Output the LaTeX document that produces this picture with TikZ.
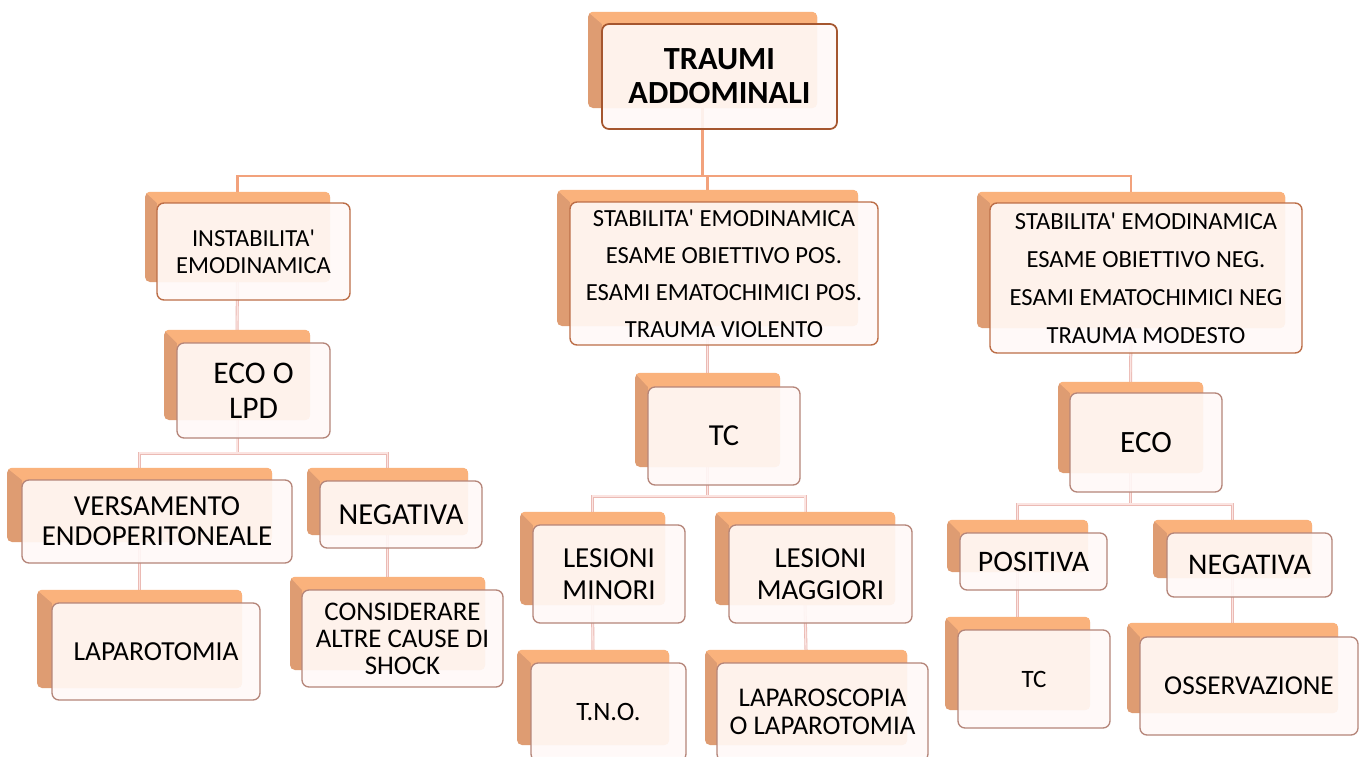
\documentclass[tikz,border=0pt]{standalone}
\usepackage{fontspec}
\setmainfont{Carlito}[Ligatures=TeXOff]
\usetikzlibrary{calc}
\pgfdeclarelayer{bg}
\pgfsetlayers{bg,main}
\definecolor{plateL}{HTML}{FAB27C}
\definecolor{plateD}{HTML}{DE9C72}
\definecolor{boxfill}{HTML}{FFF9F8}
\definecolor{bdA}{HTML}{A5562F}
\definecolor{bdB}{HTML}{BC6E48}
\definecolor{bdC}{HTML}{B58579}
\definecolor{conO}{HTML}{F2A27C}
\definecolor{conPo}{HTML}{EBBAB4}
\definecolor{conPi}{HTML}{FBE4E1}
\tikzset{
  plate/.style={fill=plateD, rounded corners=5pt, inner sep=0pt, draw=none},
  mainbox/.style={fill=boxfill, fill opacity=0.9, text opacity=1, rounded corners=7pt,
    inner sep=0pt, align=center, draw=bdC, line width=1.3pt},
  lvlA/.style={draw=bdA, line width=1.7pt},
  lvlB/.style={draw=bdB, line width=1.4pt},
  conA/.style={draw=conO, line width=2.2pt},
  conBo/.style={draw=conPo, line width=3pt},
  conBi/.style={draw=conPi, line width=1.3pt},
  fs/.style 2 args={font=\fontsize{#1}{#2}\selectfont},
}
\def\tparse#1,#2,#3,#4\relax{\def\qa{#1}\def\qb{#2}\def\qc{#3}\def\qd{#4}}
% #1 name, #2 plate x1,y1,x2,y2, #3 box x1,y1,x2,y2, #4 style, #5 text
\newcommand\tnode[5]{%
  \tparse#2\relax
  \pgfmathsetmacro\pcx{(\qa+\qc)/2}\pgfmathsetmacro\pcy{(\qb+\qd)/2}%
  \pgfmathsetmacro\pw{\qc-\qa}\pgfmathsetmacro\ph{\qd-\qb}%
  \node[plate, minimum width=\pw pt, minimum height=\ph pt] (#1) at (\pcx,\pcy) {};
  \tparse#3\relax
  \coordinate (#1nw) at (\qa,\qb);
  \begin{scope}
    \clip[rounded corners=5pt] (#1.north west) rectangle (#1.south east);
    \fill[plateL] (#1.north west) -- (#1.north east) -- (#1.south east)
      -- (#1nw |- #1.south) -- (#1nw) -- cycle;
  \end{scope}
  \pgfmathsetmacro\pcx{(\qa+\qc)/2}\pgfmathsetmacro\pcy{(\qb+\qd)/2}%
  \pgfmathsetmacro\pw{\qc-\qa}\pgfmathsetmacro\ph{\qd-\qb}%
  \node[mainbox, minimum width=\pw pt, minimum height=\ph pt, #4] (#1m) at (\pcx,\pcy) {#5};
}
\begin{document}
\begin{tikzpicture}[x=1pt, y=-1pt]
\useasboundingbox (0,0) rectangle (1361,756);

\tnode{top}{588,12,817,108}{602,24,837,129}{lvlA, font=\fontsize{32.3}{34}\selectfont\bfseries}{TRAUMI\\ADDOMINALI}
\tnode{instab}{145,192,330,282}{157,203,350,300}{lvlB, fs={24.5}{27}}{INSTABILITA'\\EMODINAMICA}
\tnode{stab}{557,190,858,326}{570,202,878,345}{lvlB, fs={24.6}{37}}{STABILITA' EMODINAMICA\\ESAME OBIETTIVO POS.\\ESAMI EMATOCHIMICI POS.\\TRAUMA VIOLENTO}
\tnode{stabr}{977,192,1285,328}{990,203,1302,353}{lvlB, fs={24.6}{38}}{STABILITA' EMODINAMICA\\ESAME OBIETTIVO NEG.\\ESAMI EMATOCHIMICI NEG\\TRAUMA MODESTO}
\tnode{ecolpd}{164,330,310,420}{177,343,330,438}{fs={31.5}{35}}{ECO O\\LPD}
\tnode{tc}{635,373,780,467}{648,387,800,485}{fs={30.5}{34}}{TC}
\tnode{eco}{1058,382,1203,473}{1070,393,1222,492}{fs={31}{35}}{ECO}
\tnode{vers}{7,468,272,542}{22,480,292,563}{fs={29}{30}}{VERSAMENTO\\ENDOPERITONEALE}
\tnode{neg}{307,468,468,535}{320,481,482,548}{fs={30.5}{32}}{NEGATIVA}
\tnode{lapt}{37,590,242,688}{52,603,260,700}{fs={27.5}{30}}{LAPAROTOMIA}
\tnode{cons}{290,577,485,670}{302,590,503,687}{fs={26.9}{27}}{CONSIDERARE\\ALTRE CAUSE DI\\SHOCK}
\tnode{lmin}{520,512,665,605}{533,525,685,623}{fs={29}{32}}{LESIONI\\MINORI}
\tnode{lmag}{715,512,895,605}{729,525,912,623}{fs={29}{32}}{LESIONI\\MAGGIORI}
\tnode{tno}{517,650,669,745}{531,663,686,761}{fs={26.5}{30}}{T.N.O.}
\tnode{lapsc}{705,650,907,745}{717,663,928,761}{fs={27}{28}}{LAPAROSCOPIA\\O LAPAROTOMIA}
\tnode{pos}{947,520,1088,572}{960,533,1107,590}{fs={29.8}{32}}{POSITIVA}
\tnode{negr}{1153,520,1312,578}{1167,533,1332,597}{fs={30}{32}}{NEGATIVA}
\tnode{tcr}{945,617,1090,710}{958,630,1110,728}{fs={25}{28}}{TC}
\tnode{oss}{1127,623,1338,713}{1140,637,1358,735}{fs={27.3}{30}}{OSSERVAZIONE}

\begin{pgfonlayer}{bg}
  \fill[white] (0,0) rectangle (1361,756);
  \coordinate (busA) at (0,176);
  \coordinate (busB) at (0,453);
  \coordinate (busC) at (0,496);
  \coordinate (busD) at (0,504);
  \draw[conA] (top.south) -- (top.south |- busA) -| (instab.north);
  \draw[conA] (top.south |- busA) -| (stab.north);
  \draw[conA] (top.south |- busA) -| (stabr.north);
  \foreach \s in {conBo,conBi}{
    \draw[\s] (instab.south) -- (ecolpd.north);
    \draw[\s] (stab.south) -- (tc.north);
    \draw[\s] (stabr.south) -- (eco.north);
    \draw[\s] (ecolpd.south) -- (ecolpd.south |- busB);
    \draw[\s] (vers.north) |- (ecolpd.south |- busB) -| (neg.north);
    \draw[\s] (vers.south) -- (lapt.north);
    \draw[\s] (neg.south) -- (cons.north);
    \draw[\s] (tc.south) -- (tc.south |- busC);
    \draw[\s] (lmin.north) |- (tc.south |- busC) -| (lmag.north);
    \draw[\s] (lmin.south) -- (tno.north);
    \draw[\s] (lmag.south) -- (lapsc.north);
    \draw[\s] (eco.south) -- (eco.south |- busD);
    \draw[\s] (pos.north) |- (eco.south |- busD) -| (negr.north);
    \draw[\s] (pos.south) -- (tcr.north);
    \draw[\s] (negr.south) -- (oss.north);
  }
\end{pgfonlayer}
\end{tikzpicture}
\end{document}
